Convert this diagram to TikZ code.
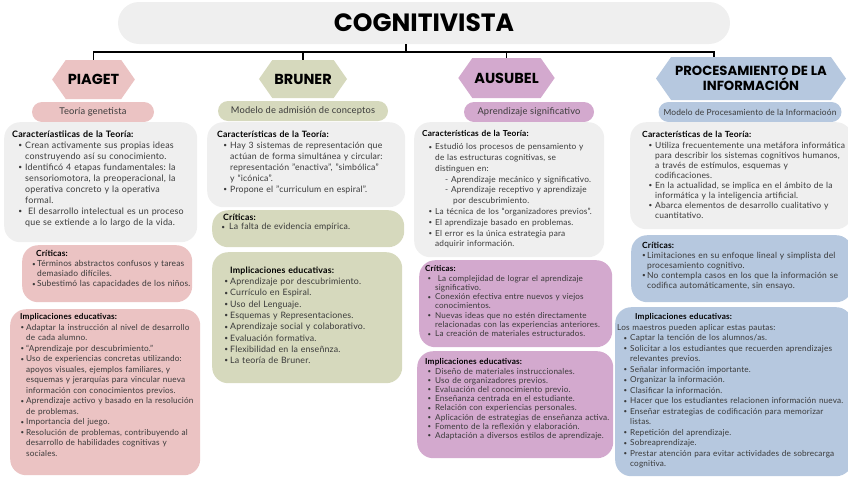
\documentclass[tikz,border=0pt]{standalone}
\usepackage{fontspec}
\setmainfont{Lato}[LetterSpace=2]
\newfontfamily\headfont{Poppins}
\usepackage{enumitem}
\usetikzlibrary{positioning, shapes.symbols, calc}

\definecolor{piagetc}{HTML}{EBC3C3}
\definecolor{brunerc}{HTML}{D6D9BD}
\definecolor{ausubelc}{HTML}{D3A9CE}
\definecolor{infoc}{HTML}{B6C8DF}
\definecolor{cardbg}{HTML}{EFEFEF}
\definecolor{bodytxt}{HTML}{3A3A3A}

\setlength{\parindent}{0pt}
\frenchspacing
\newcommand{\bul}{\raisebox{.15ex}{\scalebox{.75}{\textbullet}}}
\newcommand{\cardhead}[1]{{\color{black}\bfseries #1}\par}
\setlist[itemize]{label=\bul, itemsep=0pt, topsep=0pt, parsep=0pt, partopsep=0pt, labelsep=3pt, leftmargin=13pt}

\begin{document}
\begin{tikzpicture}[
    x=1pt, y=-1pt,
    link/.style={draw=black, line width=1.3pt},
    banner/.style={fill=cardbg, rounded corners=21pt, minimum width=612pt, minimum height=42pt, font=\headfont\bfseries\fontsize{25}{28}\selectfont},
    hexa/.style={signal, signal to=east and west, signal pointer angle=110, inner xsep=2pt, inner ysep=0pt, align=center, text=black, font=\headfont\bfseries\fontsize{14.5}{16}\selectfont},
    pill/.style={rounded corners=10pt, minimum height=20pt, inner sep=0pt, text=bodytxt, font=\fontsize{9.3}{10}\selectfont},
    card/.style={anchor=north west, rounded corners=16pt, inner sep=0pt},
    txt/.style={anchor=north west, inner sep=0pt, align=left, text=bodytxt, text width=#1}
]
\useasboundingbox (0,0) rectangle (848,477);

% Title and headers
\node[banner] (title) at (424,23) {COGNITIVISTA};
\node[hexa, fill=piagetc, minimum width=77pt, minimum height=39pt] (hpiaget) at (93.5,79.5) {PIAGET};
\node[hexa, fill=brunerc, minimum width=88pt, minimum height=38pt] (hbruner) at (303,79) {BRUNER};
\node[hexa, fill=ausubelc, minimum width=93pt, minimum height=40pt] (hausubel) at (506.5,78) {AUSUBEL};
\node[hexa, fill=infoc, minimum width=190pt, minimum height=43pt, font=\headfont\bfseries\fontsize{13.2}{14.5}\selectfont] (hinfo) at (751,78.5) {PROCESAMIENTO DE LA\\INFORMACIÓN};

% Edges
\coordinate (bus) at (406,52);
\draw[link] (title.south -| bus) -- (bus);
\draw[link] (hpiaget.north) |- (bus) -| ([xshift=-37pt]hinfo.north);
\draw[link] (hbruner.north) -- (hbruner.north |- bus);
\draw[link] (hausubel.north) -- (hausubel.north |- bus);

% Subtitles
\node[pill, fill=piagetc, minimum width=122pt] (ppiaget) at (93,112) {Teoría genetista};
\node[pill, fill=brunerc, minimum width=170pt] (pbruner) at (303,111) {Modelo de admisión de conceptos};
\node[pill, fill=ausubelc, minimum width=130pt] (pausubel) at (529,112) {Aprendizaje significativo};
\node[pill, fill=infoc, minimum width=183pt, font=\fontsize{8.4}{9}\selectfont] (pinfo) at (750,112) {Modelo de Procesamiento de la Informacioón};

% Piaget
\node[card, fill=cardbg, minimum width=193pt, minimum height=120pt] (pcar) at (4,122) {};
\node[card, fill=piagetc, minimum width=170pt, minimum height=57pt] (pcrit) at (22,245) {};
\node[card, fill=piagetc, minimum width=190pt, minimum height=166pt] (pimp) at (10,309) {};
\node[txt=188pt, font=\fontsize{8.9}{11}\selectfont] (tpcar) at (12,130.5) {\cardhead{Caracteríastiicas de la Teoría:}
\begin{itemize}
\item Crean activamente sus propias ideas\\construyendo así su conocimiento.
\item Identificó 4 etapas fundamentales: la\\sensoriomotora, la preoperacional, la\\operativa concreto y la operativa\\formal.
\item \ El desarrollo intelectual es un proceso\\que se extiende a lo largo de la vida.
\end{itemize}};
\node[txt=165pt, font=\fontsize{8.4}{10}\selectfont] (tpcrit) at (32,250.5) {\cardhead{\hspace*{4pt}Críticas:}
\begin{itemize}[leftmargin=5pt, labelsep=1.5pt]
\item Términos abstractos confusos y tareas\\demasiado difíciles.
\item Subestimó las capacidades de los niños.
\end{itemize}};
\node[txt=185pt, font=\fontsize{8.2}{10.5}\selectfont] (tpimp) at (20,313.5) {\cardhead{Implicaciones educativas:}
\begin{itemize}[leftmargin=6pt, labelsep=2pt]
\item Adaptar la instrucción al nivel de desarrollo\\de cada alumno.
\item “Aprendizaje por descubrimiento.”
\item Uso de experiencias concretas utilizando:\\apoyos visuales, ejemplos familiares, y\\esquemas y jerarquías para vincular nueva\\información con conocimientos previos.
\item Aprendizaje activo y basado en la resolución\\de problemas.
\item Importancia del juego.
\item Resolución de problemas, contribuyendo al\\desarrollo de habilidades cognitivas y\\sociales.
\end{itemize}};

% Bruner
\node[card, fill=cardbg, minimum width=198pt, minimum height=85pt] (bcar) at (207,122) {};
\node[card, fill=brunerc, minimum width=192pt, minimum height=37pt] (bcrit) at (212,210) {};
\node[card, fill=brunerc, minimum width=190pt, minimum height=131pt] (bimp) at (212,252) {};
\node[txt=188pt, font=\fontsize{8.7}{11}\selectfont] (tbcar) at (217,130.5) {\cardhead{Características de la Teoría:}
\begin{itemize}
\item Hay 3 sistemas de representación que\\actúan de forma simultánea y circular:\\representación "enactiva", "simbólica"\\y “icónica”.
\item Propone el "curriculum en espiral".
\end{itemize}};
\node[txt=185pt, font=\fontsize{8.7}{9.5}\selectfont] (tbcrit) at (218,213.5) {\cardhead{\hspace*{5pt}Críticas:}
\begin{itemize}[leftmargin=11pt, labelsep=4pt]
\item La falta de evidencia empírica.
\end{itemize}};
\node[txt=178pt, font=\fontsize{8.8}{11.3}\selectfont] (tbimp) at (222,266.5) {\cardhead{\hspace*{8pt}Implicaciones educativas:}
\begin{itemize}[leftmargin=8pt, labelsep=2pt]
\item Aprendizaje por descubrimiento.
\item Currículo en Espiral.
\item Uso del Lenguaje.
\item Esquemas y Representaciones.
\item Aprendizaje social y colaborativo.
\item Evaluación formativa.
\item Flexibilidad en la enseñnza.
\item La teoría de Bruner.
\end{itemize}};

% Ausubel
\node[card, fill=cardbg, minimum width=190pt, minimum height=135pt] (acar) at (414,122) {};
\node[card, fill=ausubelc, minimum width=193pt, minimum height=87pt] (acrit) at (419,260) {};
\node[card, fill=ausubelc, minimum width=196pt, minimum height=107pt] (aimp) at (417,351) {};
\node[txt=185pt, font=\fontsize{8.3}{10.8}\selectfont] (tacar) at (422,130.5) {\cardhead{Características de la Teoría:}\vspace{2pt}
\begin{itemize}
\item Estudió los procesos de pensamiento y\\de las estructuras cognitivas, se\\distinguen en:\\
  \hspace*{10pt}- Aprendizaje mecánico y significativo.\\
  \hspace*{10pt}- Aprendizaje receptivo y aprendizaje\\
  \hspace*{18pt}por descubrimiento.
\item La técnica de los “organizadores previos”.
\item El aprendizaje basado en problemas.
\item El error es la única estrategia para\\adquirir información.
\end{itemize}};
\node[txt=188pt, font=\fontsize{8.1}{9.3}\selectfont] (tacrit) at (425,265.5) {\cardhead{Críticas:}
\begin{itemize}[leftmargin=10pt, labelsep=4pt]
\item \ La complejidad de lograr el aprendizaje\\significativo.
\item Conexión efectiva entre nuevos y viejos\\conocimientos.
\item Nuevas ideas que no estén directamente\\relacionadas con las experiencias anteriores.
\item La creación de materiales estructurados.
\end{itemize}};
\node[txt=188pt, font=\fontsize{8.2}{9.2}\selectfont] (taimp) at (425,358.5) {\cardhead{Implicaciones educativas:}
\begin{itemize}[leftmargin=10pt, labelsep=4pt]
\item Diseño de materiales instruccionales.
\item Uso de organizadores previos.
\item Evaluación del conocimiento previo.
\item Enseñanza centrada en el estudiante.
\item Relación con experiencias personales.
\item Aplicación de estrategias de enseñanza activa.
\item Fomento de la reflexión y elaboración.
\item Adaptación a diversos estilos de aprendizaje.
\end{itemize}};

% Procesamiento de la informacion
\node[card, fill=cardbg, minimum width=222pt, minimum height=107pt] (icar) at (630,122) {};
\node[card, fill=infoc, minimum width=221pt, minimum height=67pt] (icrit) at (631,235) {};
\node[card, fill=infoc, minimum width=237pt, minimum height=169pt] (iimp) at (615,307) {};
\node[txt=205pt, font=\fontsize{8.5}{10}\selectfont] (ticar) at (642,130.5) {\cardhead{Características de la Teoría:}\vspace{1.5pt}
\begin{itemize}
\item Utiliza frecuentemente una metáfora informática\\para describir los sistemas cognitivos humanos,\\a través de estímulos, esquemas y\\codificaciones.
\item En la actualidad, se implica en el ámbito de la\\informática y la inteligencia artificial.
\item Abarca elementos de desarrollo cualitativo y\\cuantitativo.
\end{itemize}};
\node[txt=205pt, font=\fontsize{8.5}{10}\selectfont] (ticrit) at (642,241.5) {\cardhead{Críticas:}
\begin{itemize}[leftmargin=5pt, labelsep=1.5pt]
\item Limitaciones en su enfoque lineal y simplista del\\procesamiento cognitivo.
\item No contempla casos en los que la información se\\codifica automáticamente, sin ensayo.
\end{itemize}};
\node[txt=230pt, font=\fontsize{8.2}{10.5}\selectfont] (tiimp) at (617,313.5) {\cardhead{\hspace*{18pt}Implicaciones educativas:}
Los maestros pueden aplicar estas pautas:
\begin{itemize}[leftmargin=13pt, labelsep=3pt]
\item Captar la tención de los alumnos/as.
\item Solicitar a los estudiantes que recuerden aprendizajes\\relevantes previos.
\item Señalar información importante.
\item Organizar la información.
\item Clasificar la información.
\item Hacer que los estudiantes relacionen información nueva.
\item Enseñar estrategias de codificación para memorizar\\listas.
\item Repetición del aprendizaje.
\item Sobreaprendizaje.
\item Prestar atención para evitar actividades de sobrecarga\\cognitiva.
\end{itemize}};
\end{tikzpicture}
\end{document}
